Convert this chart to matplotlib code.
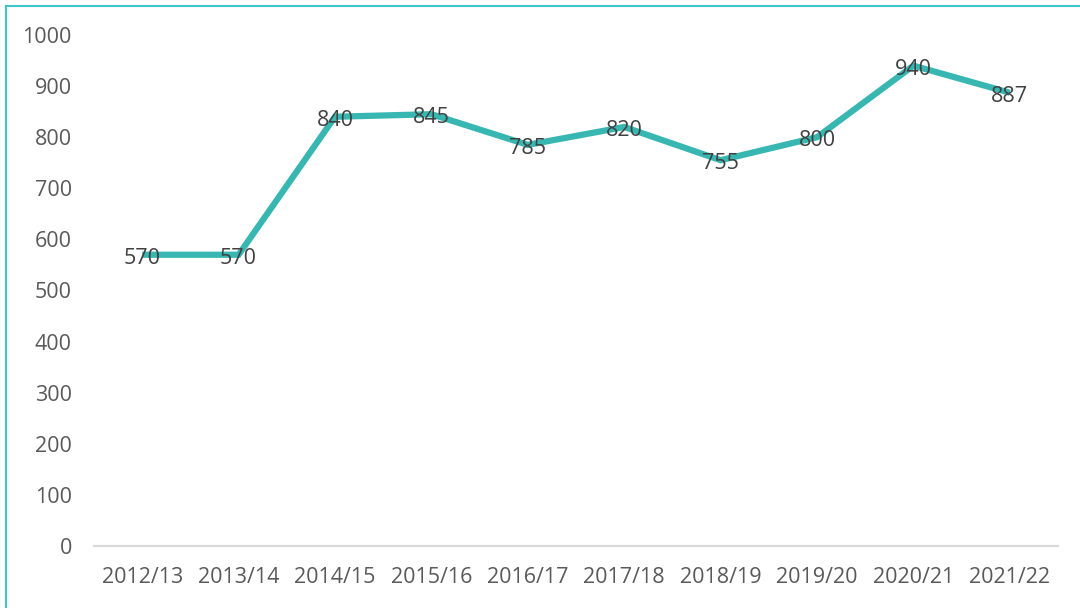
import matplotlib
matplotlib.use("Agg")
import matplotlib.pyplot as plt
from matplotlib.patches import Rectangle

categories = ["2012/13", "2013/14", "2014/15", "2015/16", "2016/17",
              "2017/18", "2018/19", "2019/20", "2020/21", "2021/22"]
values = [570, 570, 840, 845, 785, 820, 755, 800, 940, 887]
yticks = [0, 100, 200, 300, 400, 500, 600, 700, 800, 900, 1000]

plt.rcParams['font.family'] = ['Open Sans', 'DejaVu Sans']

fig = plt.figure(figsize=(10.8, 6.08), dpi=100)
ax = fig.add_axes([94/1080, 1-546/608, (1058-94)/1080, (546-35)/608])

x = list(range(len(categories)))
ax.plot(x, values, color="#38B7B2", lw=4.5, solid_capstyle="butt", solid_joinstyle="miter", zorder=2)
for xi, v in zip(x, values):
    ax.annotate(str(v), (xi, v), xytext=(0, -2.5), textcoords="offset points",
                ha="center", va="center", fontsize=15.5, color="#404040", zorder=3)

ax.set_xlim(-0.5, len(categories) - 0.5)
ax.set_ylim(0, 1000)
ax.set_xticks(x)
ax.set_xticklabels(categories)
ax.set_yticks(yticks)
ax.tick_params(axis="both", length=0, labelsize=15.5, labelcolor="#595959")
ax.tick_params(axis="x", pad=15)
ax.tick_params(axis="y", pad=16)
for s in ["top", "right", "left"]:
    ax.spines[s].set_visible(False)
ax.spines["bottom"].set_color("#D9D9D9")
ax.spines["bottom"].set_linewidth(1.5)

fig.patches.append(Rectangle((6/1080, -0.1), 1.2, 1 - 6/608 + 0.1, transform=fig.transFigure,
                             fill=False, edgecolor="#3CC8C6", lw=1.5))

fig.savefig("out.png", dpi=100)
